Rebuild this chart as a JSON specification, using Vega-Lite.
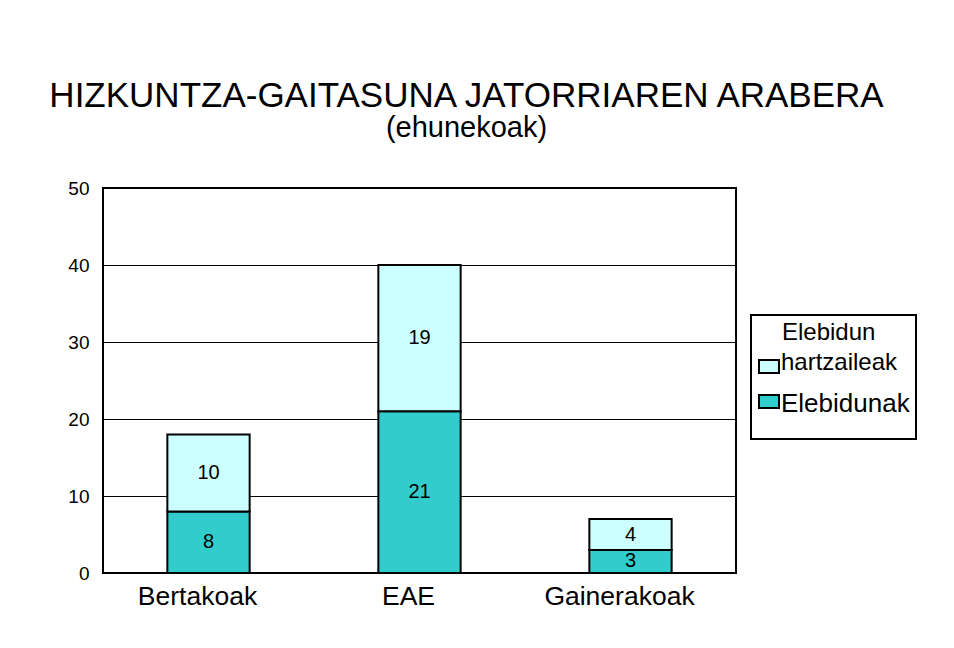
{
  "$schema": "https://vega.github.io/schema/vega-lite/v6.json",
  "width": 633,
  "height": 385,
  "autosize": {"type": "none"},
  "padding": {"left": 103, "top": 188, "right": 218, "bottom": 75},
  "background": "white",
  "title": {
    "text": "HIZKUNTZA-GAITASUNA JATORRIAREN ARABERA",
    "subtitle": "(ehunekoak)",
    "fontSize": 35,
    "subtitleFontSize": 29,
    "font": "Liberation Sans",
    "subtitleFont": "Liberation Sans",
    "fontWeight": "normal",
    "color": "black",
    "subtitleColor": "black",
    "anchor": "middle",
    "frame": "group",
    "dx": 47,
    "offset": 36,
    "subtitlePadding": 0
  },
  "data": {
    "values": [
      {"jatorria": "Bertakoak", "mota": "Elebidunak", "balioa": 8, "ordena": 1},
      {"jatorria": "Bertakoak", "mota": "Elebidun hartzaileak", "balioa": 10, "ordena": 2},
      {"jatorria": "EAE", "mota": "Elebidunak", "balioa": 21, "ordena": 1},
      {"jatorria": "EAE", "mota": "Elebidun hartzaileak", "balioa": 19, "ordena": 2},
      {"jatorria": "Gainerakoak", "mota": "Elebidunak", "balioa": 3, "ordena": 1},
      {"jatorria": "Gainerakoak", "mota": "Elebidun hartzaileak", "balioa": 4, "ordena": 2}
    ]
  },
  "transform": [
    {"stack": "balioa", "groupby": ["jatorria"], "sort": [{"field": "ordena"}], "as": ["v0", "v1"]},
    {"calculate": "(datum.v0 + datum.v1) / 2", "as": "erdia"}
  ],
  "layer": [
    {
      "mark": {"type": "bar", "stroke": "black", "strokeWidth": 2},
      "encoding": {
        "x": {
          "field": "jatorria", "type": "nominal",
          "sort": ["Bertakoak", "EAE", "Gainerakoak"],
          "scale": {"paddingInner": 0.61, "paddingOuter": 0.305},
          "axis": {"title": null, "ticks": false, "domain": false, "labelFontSize": 26.5, "labelColor": "black", "labelPadding": 10, "labelAngle": 0, "labelOffset": -11}
        },
        "y": {
          "field": "v0", "type": "quantitative",
          "scale": {"domain": [0, 50]},
          "axis": {"values": [0, 10, 20, 30, 40, 50], "title": null, "grid": true, "gridColor": "black", "gridWidth": 1, "gridOpacity": 1, "ticks": false, "domain": false, "labelFontSize": 19, "labelColor": "black", "labelPadding": 14}
        },
        "y2": {"field": "v1"},
        "fill": {
          "field": "mota", "type": "nominal",
          "scale": {"domain": ["Elebidun hartzaileak", "Elebidunak"], "range": ["#CCFFFF", "#33CCCC"]},
          "legend": {
            "orient": "none", "legendX": 648, "legendY": 127,
            "title": "Elebidun", "titleOrient": "top", "titleFontSize": 24, "titleFontWeight": "normal",
            "titleColor": "black", "titleFont": "Liberation Sans", "titlePadding": 9.5, "titleAnchor": "start",
            "strokeColor": "black", "padding": 6, "fillColor": "white",
            "symbolType": "M-1,-0.65L1,-0.65L1,0.65L-1,0.65Z", "symbolSize": 400,
            "symbolStrokeColor": "black", "symbolStrokeWidth": 2,
            "labelOffset": 0, "labelFontSize": 24, "labelColor": "black", "labelLimit": 300,
            "rowPadding": 12,
            "labelExpr": "datum.value == 'Elebidun hartzaileak' ? 'hartzaileak' : datum.value",
            "encode": {
              "legend": {"update": {"strokeWidth": {"value": 2}}},
              "title": {"update": {"dx": {"value": 25}}},
              "symbols": {
                "update": {
                  "shape": {"signal": "datum.value == 'Elebidunak' ? 'M-1,-0.65L1,-0.65L1,0.65L-1,0.65ZM0,2.7' : 'M-1,-0.65L1,-0.65L1,0.65L-1,0.65Z'"}
                }
              },
              "labels": {
                "update": {
                  "fontSize": {"signal": "datum.value == 'Elebidunak' ? 26 : 24"},
                  "dy": {"signal": "datum.value == 'Elebidunak' ? 2 : -4"}
                }
              }
            }
          }
        }
      }
    },
    {
      "mark": {"type": "text", "fontSize": 20, "color": "black"},
      "encoding": {
        "x": {"field": "jatorria", "type": "nominal", "sort": ["Bertakoak", "EAE", "Gainerakoak"]},
        "y": {"field": "erdia", "type": "quantitative"},
        "text": {"field": "balioa", "type": "quantitative"}
      }
    }
  ],
  "config": {
    "font": "Liberation Sans",
    "view": {"stroke": "black", "strokeWidth": 2}
  }
}
